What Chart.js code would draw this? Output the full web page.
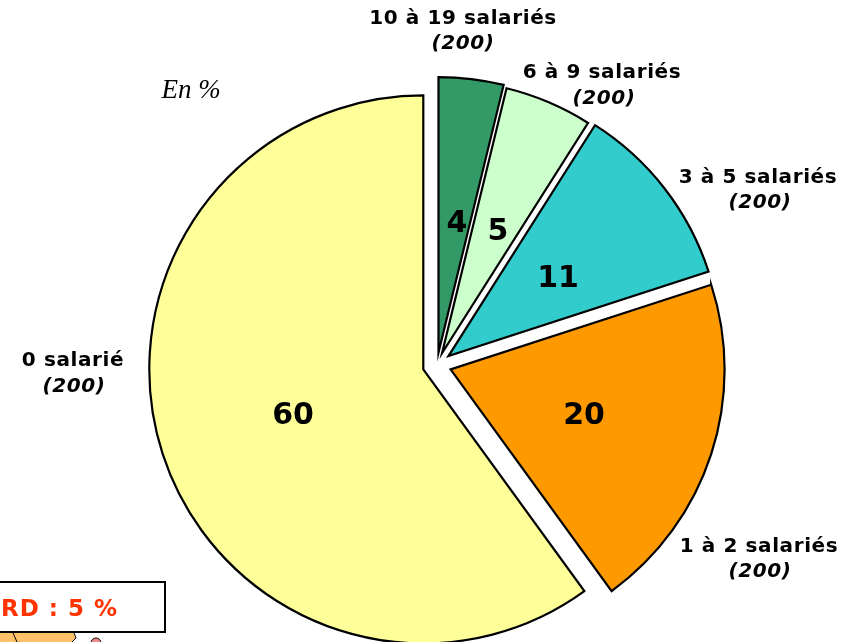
<!DOCTYPE html>
<html>
<head>
<meta charset="utf-8">
<title>Salariés</title>
<script src="https://cdn.jsdelivr.net/npm/chart.js@4"></script>
<style>
html, body { margin: 0; padding: 0; background: #fff; overflow: hidden; }
#wrap { position: relative; width: 845px; height: 642px; }
</style>
</head>
<body>
<div id="wrap"><canvas id="pieChart" width="845" height="642"></canvas></div>
<script>
const categories = ["10 à 19 salariés", "6 à 9 salariés", "3 à 5 salariés", "1 à 2 salariés", "0 salarié"];
// shares, the labels show them rounded
const values = [3.8, 5.2, 11, 20, 60];
const bases = ["(200)", "(200)", "(200)", "(200)", "(200)"];
const colors = ["#339966", "#CCFFCC", "#33CCCC", "#FF9900", "#FFFF99"];
const unitNote = "En %";
const nrNote = "RD : 5 %";

// slice layout: explode distance and radius, both in px
const sliceShift = [12.5, 13, 14.5, 14.3, 14.4];
const sliceRadius = [275.5, 272.5, 273.5, 274, 274];

// label anchors, same order as categories (centre x, baseline y)
const namePos = [[463, 24], [602, 78], [758, 183], [759, 552], [73, 366]];
const basePos = [[463, 49], [604, 104], [760, 208], [760, 577], [74, 392]];
const valuePos = [[457, 232], [498, 240], [558, 287], [584, 424], [293, 424]];

// the offset option tilts the slice edges, so explode the arcs by hand after the update
const explodePlugin = {
    id: "explode",
    afterDatasetsUpdate(chart) {
        chart.getDatasetMeta(0).data.forEach((arc, i) => {
            const mid = (arc.startAngle + arc.endAngle) / 2;
            arc.x += Math.cos(mid) * sliceShift[i];
            arc.y += Math.sin(mid) * sliceShift[i];
            arc.outerRadius = sliceRadius[i];
        });
    }
};

const textPlugin = {
    id: "pieText",
    afterDraw(chart) {
        const ctx = chart.ctx;
        ctx.save();
        ctx.textAlign = "center";
        ctx.textBaseline = "alphabetic";
        ctx.fillStyle = "#000";
        categories.forEach((name, i) => {
            ctx.letterSpacing = "0.6px";
            ctx.font = "bold 20px 'DejaVu Sans'";
            ctx.fillText(name, namePos[i][0], namePos[i][1]);
            ctx.font = "italic bold 20px 'DejaVu Sans'";
            ctx.fillText(bases[i], basePos[i][0], basePos[i][1]);
            ctx.letterSpacing = "0px";
            ctx.font = "bold 30px 'DejaVu Sans'";
            ctx.fillText(String(Math.round(values[i])), valuePos[i][0], valuePos[i][1]);
        });
        ctx.font = "italic 27px 'Liberation Serif'";
        ctx.fillText(unitNote, 191, 98);

        // box at the bottom left, cut by the page edge
        ctx.fillStyle = "#fff";
        ctx.strokeStyle = "#000";
        ctx.lineWidth = 2;
        ctx.fillRect(-5, 582, 170, 50);
        ctx.strokeRect(-5, 582, 170, 50);
        ctx.fillStyle = "#FF3300";
        ctx.textAlign = "left";
        ctx.letterSpacing = "1px";
        ctx.font = "bold 23px 'DejaVu Sans'";
        ctx.fillText(nrNote, 1, 616);
        ctx.letterSpacing = "0px";

        // piece of map under the box
        ctx.fillStyle = "#FFC06A";
        ctx.strokeStyle = "#000";
        ctx.lineWidth = 1;
        ctx.beginPath();
        ctx.moveTo(0, 633);
        ctx.lineTo(74, 633);
        ctx.lineTo(76, 638);
        ctx.lineTo(72, 642);
        ctx.lineTo(0, 642);
        ctx.fill();
        ctx.beginPath();
        ctx.moveTo(13, 633);
        ctx.lineTo(17, 642);
        ctx.moveTo(74, 633);
        ctx.lineTo(76, 638);
        ctx.lineTo(72, 642);
        ctx.stroke();
        ctx.fillStyle = "#F08A8A";
        ctx.beginPath();
        ctx.arc(96, 643, 5, 0, Math.PI * 2);
        ctx.fill();
        ctx.stroke();
        ctx.restore();
    }
};

new Chart(document.getElementById("pieChart"), {
    type: "pie",
    data: {
        labels: categories,
        datasets: [{
            data: values,
            backgroundColor: colors,
            borderColor: "#000",
            borderWidth: 2.2,
            borderJoinStyle: "miter",
            radius: 274,
            clip: false
        }]
    },
    options: {
        responsive: false,
        animation: false,
        layout: { padding: { left: 29, top: 88, right: 0, bottom: 0 } },
        plugins: {
            legend: { display: false },
            tooltip: { enabled: false }
        }
    },
    plugins: [explodePlugin, textPlugin]
});
</script>
</body>
</html>
